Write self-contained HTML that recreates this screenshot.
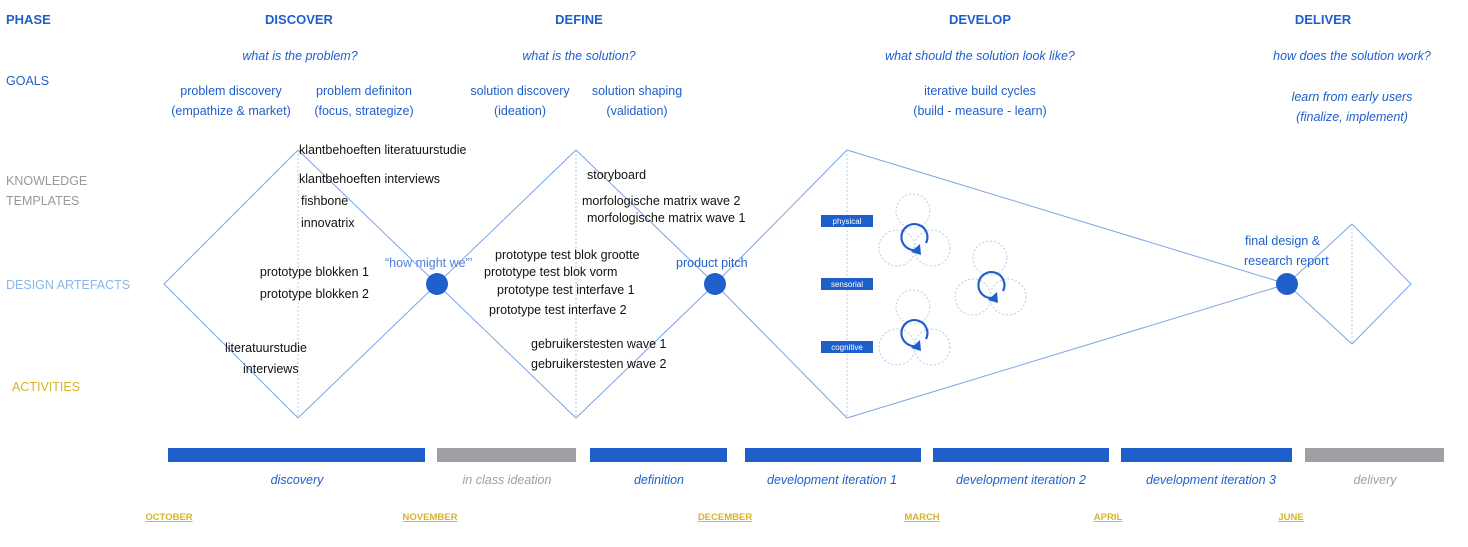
<!DOCTYPE html>
<html><head><meta charset="utf-8"><style>
html,body{margin:0;padding:0;background:#fff;width:1468px;height:547px;overflow:hidden}
svg{display:block;font-family:"Liberation Sans",sans-serif}
.b{fill:#1f5fcc}.t{fill:#111;font-size:12.5px}.i{font-style:italic}
</style></head><body>
<svg width="1468" height="547" viewBox="0 0 1468 547">
<g font-size="13" font-weight="bold" class="b">
<text x="6" y="24">PHASE</text>
<text x="299" y="24" text-anchor="middle">DISCOVER</text>
<text x="579" y="24" text-anchor="middle">DEFINE</text>
<text x="980" y="24" text-anchor="middle">DEVELOP</text>
<text x="1323" y="24" text-anchor="middle">DELIVER</text>
</g>
<g font-size="12.5" class="b">
<text x="6" y="85">GOALS</text>
<g class="i" text-anchor="middle">
<text x="300" y="60">what is the problem?</text>
<text x="579" y="60">what is the solution?</text>
<text x="980" y="60">what should the solution look like?</text>
<text x="1352" y="60">how does the solution work?</text>
<text x="1352" y="101">learn from early users</text>
<text x="1352" y="121">(finalize, implement)</text>
</g>
<g text-anchor="middle">
<text x="231" y="95">problem discovery</text>
<text x="231" y="115">(empathize &amp; market)</text>
<text x="364" y="95">problem definiton</text>
<text x="364" y="115">(focus, strategize)</text>
<text x="520" y="95">solution discovery</text>
<text x="520" y="115">(ideation)</text>
<text x="637" y="95">solution shaping</text>
<text x="637" y="115">(validation)</text>
<text x="980" y="95">iterative build cycles</text>
<text x="980" y="115">(build - measure - learn)</text>
</g>
</g>
<g font-size="12.5">
<text x="6" y="185" fill="#999">KNOWLEDGE</text>
<text x="6" y="205" fill="#999">TEMPLATES</text>
<text x="6" y="289" fill="#8ab8ea">DESIGN ARTEFACTS</text>
<text x="12" y="391" fill="#d4b430">ACTIVITIES</text>
</g>
<!-- shapes -->
<g fill="none" stroke="#7aa6e6" stroke-width="1">
<path d="M298,150 L437,284 L298,418 L164,284 Z" stroke-linejoin="round"/>
<path d="M576,150 L715,284 L576,418 L437,284 Z"/>
<path d="M847,150 L715,284 L847,418 L1287,284 Z"/>
<path d="M1352,224 L1411,284 L1352,344 L1287,284 Z"/>
</g>
<g stroke="#b5ccee" stroke-dasharray="2,2" fill="none">
<line x1="298" y1="150" x2="298" y2="418"/>
<line x1="576" y1="150" x2="576" y2="418"/>
<line x1="847" y1="150" x2="847" y2="418"/>
<line x1="1352" y1="224" x2="1352" y2="344"/>
<circle cx="913" cy="211" r="17"/><circle cx="897" cy="248" r="18"/><circle cx="932" cy="248" r="18"/>
<circle cx="990" cy="258" r="17"/><circle cx="973" cy="297" r="18"/><circle cx="1008" cy="297" r="18"/>
<circle cx="913" cy="307" r="17"/><circle cx="897" cy="347" r="18"/><circle cx="932" cy="347" r="18"/>
</g>
<g stroke="#1f5fcc" stroke-width="2.2" fill="none">
<path d="M916,250 A13,13 0 1 1 926,243"/>
<path d="M993,298 A13,13 0 1 1 1003,291"/>
<path d="M916,346 A13,13 0 1 1 926,339"/>
</g>
<g class="b">
<path d="M911,252 l9,-8 1,11z"/><path d="M988,300 l9,-8 1,11z"/><path d="M911,348 l9,-8 1,11z"/>
<circle cx="437" cy="284" r="11"/><circle cx="715" cy="284" r="11"/><circle cx="1287" cy="284" r="11"/>
<rect x="821" y="215" width="52" height="12"/><rect x="821" y="278" width="52" height="12"/><rect x="821" y="341" width="52" height="12"/>
</g>
<g fill="#fff" font-size="8" text-anchor="middle">
<text x="847" y="224">physical</text><text x="847" y="287">sensorial</text><text x="847" y="350">cognitive</text>
</g>
<g font-size="12.5" class="b">
<text x="385" y="267" fill="#4f7fd6">“how might we”’</text>
<text x="676" y="267">product pitch</text>
<text x="1245" y="245">final design &amp;</text>
<text x="1244" y="265">research report</text>
</g>
<g class="t">
<text x="299" y="154">klantbehoeften literatuurstudie</text>
<text x="299" y="183">klantbehoeften interviews</text>
<text x="301" y="205">fishbone</text>
<text x="301" y="227">innovatrix</text>
<text x="369" y="276" text-anchor="end">prototype blokken 1</text>
<text x="369" y="298" text-anchor="end">prototype blokken 2</text>
<text x="225" y="352">literatuurstudie</text>
<text x="243" y="373">interviews</text>
<text x="587" y="179">storyboard</text>
<text x="582" y="205">morfologische matrix wave 2</text>
<text x="587" y="222">morfologische matrix wave 1</text>
<text x="495" y="259">prototype test blok grootte</text>
<text x="484" y="276">prototype test blok vorm</text>
<text x="497" y="294">prototype test  interfave 1</text>
<text x="489" y="314">prototype test  interfave 2</text>
<text x="531" y="348">gebruikerstesten wave 1</text>
<text x="531" y="368">gebruikerstesten wave 2</text>
</g>
<!-- bars -->
<rect x="168" y="448" width="257" height="14" fill="#1f5fcc"/>
<rect x="437" y="448" width="139" height="14" fill="#9ea0a5"/>
<rect x="590" y="448" width="137" height="14" fill="#1f5fcc"/>
<rect x="745" y="448" width="176" height="14" fill="#1f5fcc"/>
<rect x="933" y="448" width="176" height="14" fill="#1f5fcc"/>
<rect x="1121" y="448" width="171" height="14" fill="#1f5fcc"/>
<rect x="1305" y="448" width="139" height="14" fill="#9ea0a5"/>
<g font-size="12.5" class="i" text-anchor="middle">
<text x="297" y="484" class="b">discovery</text>
<text x="507" y="484" fill="#9ea0a5">in class ideation</text>
<text x="659" y="484" class="b">definition</text>
<text x="832" y="484" class="b">development iteration 1</text>
<text x="1021" y="484" class="b">development iteration 2</text>
<text x="1211" y="484" class="b">development iteration 3</text>
<text x="1375" y="484" fill="#9ea0a5">delivery</text>
</g>
<g font-size="9.5" font-weight="bold" fill="#d4b430" text-decoration="underline" text-anchor="middle">
<text x="169" y="520">OCTOBER</text>
<text x="430" y="520">NOVEMBER</text>
<text x="725" y="520">DECEMBER</text>
<text x="922" y="520">MARCH</text>
<text x="1108" y="520">APRIL</text>
<text x="1291" y="520">JUNE</text>
</g>
</svg>
</body></html>
